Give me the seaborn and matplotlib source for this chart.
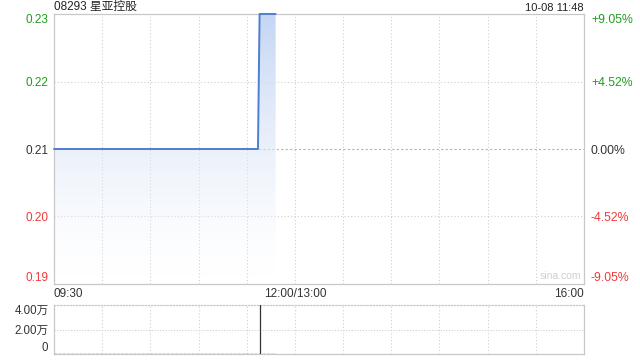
import numpy as np
import pandas as pd
import matplotlib
matplotlib.use("Agg")
import matplotlib.pyplot as plt
import seaborn as sns
from matplotlib.colors import LinearSegmentedColormap

# ---- data ----
title = "08293 星亚控股"
stamp = "10-08 11:48"
price_times = ["09:30", "11:37", "11:38", "11:48"]
price_values = [0.21, 0.21, 0.23, 0.23]
prev_close = 0.21
y_ticks = [0.19, 0.20, 0.21, 0.22, 0.23]
y_labels = ["0.19", "0.20", "0.21", "0.22", "0.23"]
pct_labels = ["-9.05%", "-4.52%", "0.00%", "+4.52%", "+9.05%"]
x_tick_times = ["09:30", "12:00", "16:00"]
x_tick_labels = ["09:30", "12:00/13:00", "16:00"]
vol_times = ["11:38"]
vol_values = [40500]
vol_span = ["09:30", "11:48"]
vol_ticks = [0, 20000, 40000]
vol_labels = ["0", "2.00万", "4.00万"]

GREEN = "#1d9e1d"
RED = "#f03a3a"
DARK = "#333333"
GRID = "#cfcfcf"
LINE = "#4e7ecf"


def tidx(s):
    h, m = map(int, s.split(":"))
    v = h * 60 + m
    return v - 570 if v <= 720 else v - 780 + 150


sns.set_theme(style="white")
plt.rcParams["font.family"] = ["Liberation Sans", "Noto Sans CJK SC", "DejaVu Sans"]

fig = plt.figure(figsize=(6.4, 3.6), dpi=100)
ax = fig.add_axes([54 / 640, 1 - 284 / 360, 530 / 640, 270 / 360])
axv = fig.add_axes([54 / 640, 1 - 354 / 360, 530 / 640, 49 / 360])

df = pd.DataFrame({"t": [tidx(t) for t in price_times], "p": price_values})

ax.set_xlim(0, 330)
ax.set_ylim(min(y_ticks), max(y_ticks))

# gradient fill under the line
poly = ax.fill_between(df["t"], df["p"], min(y_ticks), color="none", lw=0)
grad = (np.linspace(0, 1, 256) ** 0.75).reshape(-1, 1)
cmap = LinearSegmentedColormap.from_list("g", [(1, 1, 1, 0.0), (0.77, 0.84, 0.96, 1.0)])
im = ax.imshow(grad, aspect="auto", cmap=cmap, origin="lower", vmin=0, vmax=1,
               extent=[df["t"].min(), df["t"].max(), min(y_ticks) + 0.001, max(y_ticks)],
               zorder=1)
im.set_clip_path(poly.get_paths()[0], transform=ax.transData)

sns.lineplot(data=df, x="t", y="p", ax=ax, color=LINE, lw=1.4, zorder=3)
for ln in ax.get_lines():
    ln.set_clip_on(False)

# grid
for gx in range(30, 330, 30):
    ax.axvline(gx, color=GRID, lw=0.8, ls=(0, (1, 2)), zorder=0)
    axv.axvline(gx, color=GRID, lw=0.8, ls=(0, (1, 2)), zorder=0)
for gy in y_ticks[1:-1]:
    ax.axhline(gy, color="#b5b5b5" if gy == prev_close else GRID, lw=0.8,
               ls=(0, (2, 2)) if gy == prev_close else (0, (1, 2)), zorder=0)

for a in (ax, axv):
    for s in a.spines.values():
        s.set_color("#c8c8c8")
        s.set_linewidth(0.9)

ax.set_xlabel("")
ax.set_ylabel("")
ax.set_yticks(y_ticks)
ax.set_yticklabels(y_labels)
ax.tick_params(axis="y", length=0, pad=4, labelsize=8.5)
for lab, v in zip(ax.get_yticklabels(), y_ticks):
    lab.set_color(GREEN if v > prev_close else RED if v < prev_close else DARK)
ax.get_yticklabels()[0].set_va("bottom")
ax.get_yticklabels()[-1].set_va("top")

ax.set_xticks([tidx(t) for t in x_tick_times])
ax.set_xticklabels(x_tick_labels)
ax.tick_params(axis="x", length=0, pad=3, labelsize=8.5, labelcolor=DARK)
xl = ax.get_xticklabels()
xl[0].set_ha("left")
xl[-1].set_ha("right")

axr = ax.twinx()
axr.set_ylim(ax.get_ylim())
axr.set_yticks(y_ticks)
axr.set_yticklabels(pct_labels)
axr.tick_params(axis="y", length=0, pad=5, labelsize=8.8)
for lab, v in zip(axr.get_yticklabels(), y_ticks):
    lab.set_color(GREEN if v > prev_close else RED if v < prev_close else DARK)
axr.get_yticklabels()[0].set_va("bottom")
axr.get_yticklabels()[-1].set_va("top")
for s in axr.spines.values():
    s.set_visible(False)

ax.text(0.995, 0.012, "sina.com", transform=ax.transAxes, ha="right", va="bottom",
        fontsize=7.5, color="#d0d0d0")

fig.text(54 / 640, 1 - 7 / 360, title, ha="left", va="center", fontsize=8.5, color="#222222")
fig.text(584 / 640, 1 - 8 / 360, stamp, ha="right", va="center", fontsize=8, color="#222222")

# volume
axv.set_xlim(0, 330)
axv.set_ylim(0, 40000)
axv.vlines([tidx(t) for t in vol_times], 0, vol_values, color=DARK, lw=0.9, zorder=3)
axv.hlines(0, tidx(vol_span[0]), tidx(vol_span[1]), color="#555555", lw=1.0,
           ls=(0, (2, 1)), zorder=3)
axv.axhline(20000, color=GRID, lw=0.8, ls=(0, (1, 1.5)), zorder=0)
axv.spines["top"].set_linestyle((0, (1, 1.5)))
axv.set_xticks([])
axv.set_yticks(vol_ticks)
axv.set_yticklabels(vol_labels)
axv.tick_params(axis="y", length=0, pad=4, labelsize=8.3, labelcolor=DARK)
axv.get_yticklabels()[0].set_va("bottom")
axv.get_yticklabels()[-1].set_va("top")

fig.savefig("out.png", dpi=100)
